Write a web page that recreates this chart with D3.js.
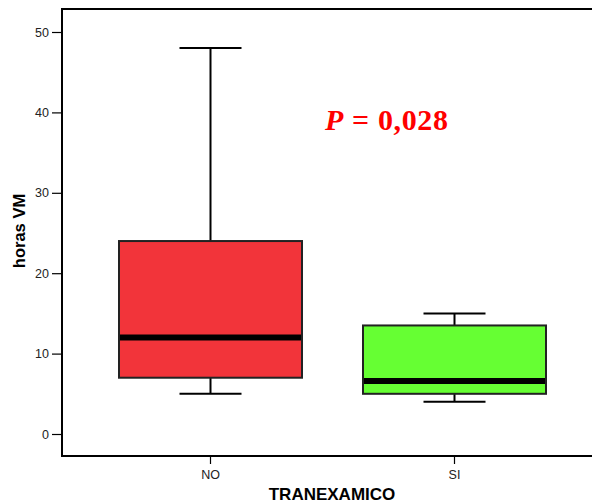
<!DOCTYPE html>
<html><head><meta charset="utf-8">
<script src="https://cdn.jsdelivr.net/npm/d3@7"></script>
<style>body{margin:0;background:#fff}svg{display:block}</style>
</head><body>
<svg id="c" width="592" height="503"></svg>
<script>
const categories = ["NO", "SI"];
const whiskerLow = [5, 4];
const q1 = [7, 5];
const median = [12, 6.6];
const q3 = [24, 13.5];
const whiskerHigh = [48, 15];
const colors = ["#f2343a", "#66ff33"];
const yTicks = [0, 10, 20, 30, 40, 50];

const svg = d3.select("#c");
const mLeft = 62, mTop = 9, mBottom = 456, mRight = 600;
const y = d3.scaleLinear().domain([0, 50]).range([434, 32]);
const x = d3.scaleBand().domain(categories).range([119, 546]).paddingInner(0.25).paddingOuter(0);

// frame
svg.append("line").attr("x1", mLeft).attr("x2", mRight).attr("y1", mTop).attr("y2", mTop).attr("stroke", "#000").attr("stroke-width", 2);
svg.append("line").attr("x1", mLeft).attr("x2", mRight).attr("y1", mBottom).attr("y2", mBottom).attr("stroke", "#000").attr("stroke-width", 2);

const yAxis = svg.append("g").attr("transform", `translate(${mLeft},0)`)
  .call(d3.axisLeft(y).tickValues(yTicks).tickSize(10).tickPadding(3).tickFormat(d3.format("d")));
yAxis.select(".domain").remove();
svg.append("line").attr("x1", mLeft).attr("x2", mLeft).attr("y1", mTop - 1).attr("y2", mBottom + 1).attr("stroke", "#000").attr("stroke-width", 2);
yAxis.selectAll("line").attr("stroke", "#000").attr("stroke-width", 1.2);
yAxis.selectAll("text").attr("font-family", "Liberation Sans, Arial, sans-serif").attr("font-size", 12.5).attr("fill", "#222");

const xAxis = svg.append("g").attr("transform", `translate(0,${mBottom})`)
  .call(d3.axisBottom(x).tickSize(8).tickPadding(6));
xAxis.select(".domain").remove();
xAxis.selectAll("line").attr("stroke", "#000").attr("stroke-width", 1.2);
xAxis.selectAll("text").attr("font-family", "Liberation Sans, Arial, sans-serif").attr("font-size", 12.5).attr("fill", "#222");

svg.append("text").attr("x", 332).attr("y", 500).attr("text-anchor", "middle")
  .attr("font-family", "Liberation Sans, Arial, sans-serif").attr("font-weight", "bold").attr("font-size", 17).text("TRANEXAMICO");
svg.append("text").attr("transform", "translate(25,231) rotate(-90)").attr("text-anchor", "middle")
  .attr("font-family", "Liberation Sans, Arial, sans-serif").attr("font-weight", "bold").attr("font-size", 16.5).text("horas VM");

const data = categories.map((c, i) => ({c, lo: whiskerLow[i], q1: q1[i], med: median[i], q3: q3[i], hi: whiskerHigh[i], col: colors[i]}));
const capW = 62;
const cx = d => x(d.c) + x.bandwidth() / 2;
const g = svg.selectAll("g.box").data(data).join("g").attr("class", "box");
g.append("line").attr("x1", cx).attr("x2", cx)
  .attr("y1", d => y(d.hi)).attr("y2", d => y(d.q3)).attr("stroke", "#000").attr("stroke-width", 2);
g.append("line").attr("x1", cx).attr("x2", cx)
  .attr("y1", d => y(d.q1)).attr("y2", d => y(d.lo)).attr("stroke", "#000").attr("stroke-width", 2);
g.append("line").attr("x1", d => cx(d) - capW / 2).attr("x2", d => cx(d) + capW / 2)
  .attr("y1", d => y(d.hi)).attr("y2", d => y(d.hi)).attr("stroke", "#000").attr("stroke-width", 2);
g.append("line").attr("x1", d => cx(d) - capW / 2).attr("x2", d => cx(d) + capW / 2)
  .attr("y1", d => y(d.lo)).attr("y2", d => y(d.lo)).attr("stroke", "#000").attr("stroke-width", 2);
g.append("rect").attr("x", d => x(d.c)).attr("width", x.bandwidth())
  .attr("y", d => y(d.q3)).attr("height", d => y(d.q1) - y(d.q3))
  .attr("fill", d => d.col).attr("stroke", "#222").attr("stroke-width", 2);
g.append("line").attr("x1", d => x(d.c) + 1).attr("x2", d => x(d.c) + x.bandwidth() - 1)
  .attr("y1", d => y(d.med)).attr("y2", d => y(d.med)).attr("stroke", "#000").attr("stroke-width", 6);

const t = svg.append("text").attr("x", 325).attr("y", 130)
  .attr("font-family", "Liberation Serif, Times New Roman, serif").attr("font-weight", "bold").attr("font-size", 30).attr("fill", "#ff0000")
  .attr("textLength", 123).attr("lengthAdjust", "spacing");
t.append("tspan").attr("font-style", "italic").text("P");
t.append("tspan").text(" = 0,028");
</script>
</body></html>
